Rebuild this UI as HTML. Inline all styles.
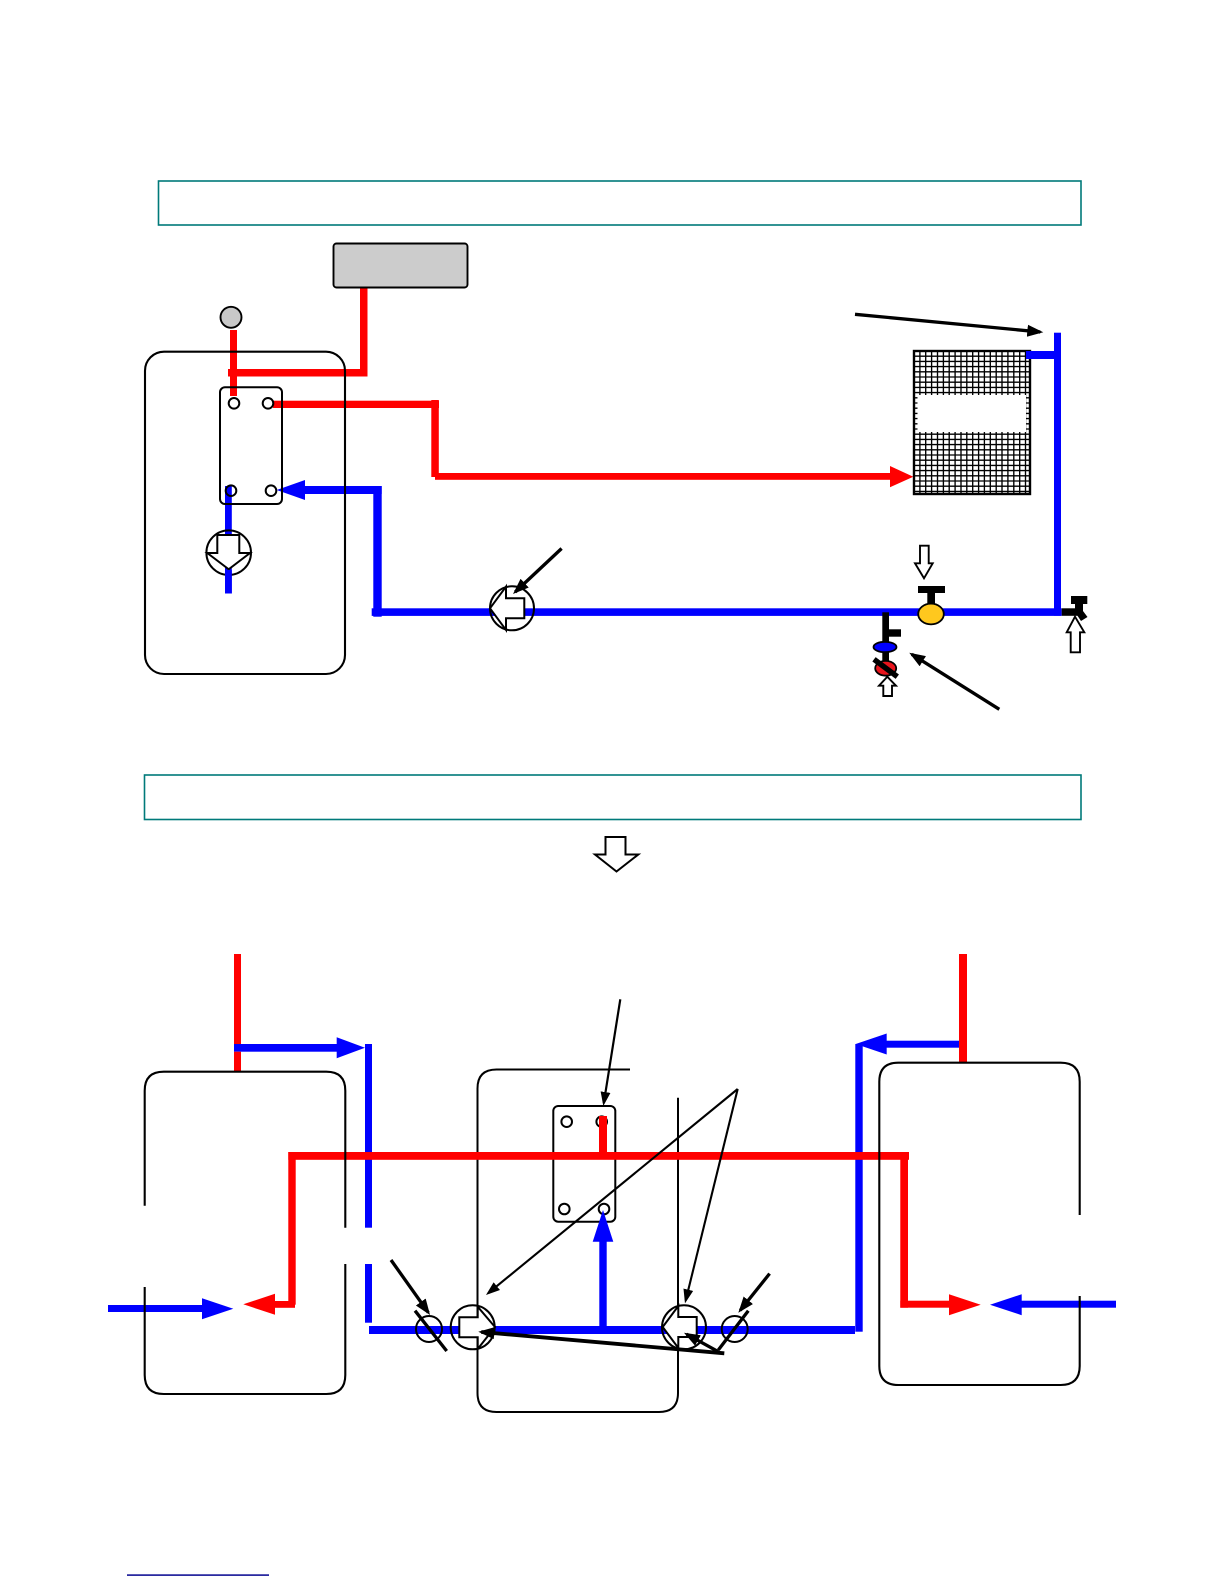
<!DOCTYPE html>
<html>
<head>
<meta charset="utf-8">
<style>
html,body{margin:0;padding:0;background:#fff}
svg{display:block}
</style>
</head>
<body>
<svg xmlns="http://www.w3.org/2000/svg" width="1224" height="1584" viewBox="0 0 1224 1584">
<defs>
<marker id="mL" markerUnits="userSpaceOnUse" markerWidth="20" markerHeight="16" refX="13" refY="7" orient="auto"><path d="M0 1L16 7L0 13Z" fill="#000"/></marker>
<marker id="mT" markerUnits="userSpaceOnUse" markerWidth="18" markerHeight="14" refX="11" refY="6" orient="auto"><path d="M0 1L14 6L0 11Z" fill="#000"/></marker>
</defs>
<rect width="1224" height="1584" fill="#fff"/>

<!-- header boxes -->
<rect x="158.5" y="181" width="922.5" height="44" fill="none" stroke="#007a7a" stroke-width="1.6"/>
<rect x="144.5" y="775" width="936.5" height="44.5" fill="none" stroke="#007a7a" stroke-width="1.6"/>

<!-- ===== TOP DIAGRAM ===== -->
<g fill="#f00">
<rect x="230" y="330" width="7" height="66"/>
<rect x="228" y="369" width="139.5" height="7.5"/>
<rect x="360" y="287" width="7.5" height="89"/>
<rect x="273" y="400.7" width="166" height="7.3"/>
<rect x="431.3" y="400" width="7.5" height="77"/>
<rect x="435" y="473" width="456" height="6.8"/>
<path d="M913.3 476.7L890 466V487.3Z"/>
</g>
<g fill="#00f">
<rect x="225" y="486" width="6.8" height="107.5"/>
<path d="M276.7 490L305 480V500Z"/>
<rect x="300" y="486" width="81.7" height="8"/>
<rect x="373.3" y="486" width="8.4" height="130.7"/>
<rect x="371.7" y="608.3" width="690" height="7.6"/>
<rect x="1054" y="332.7" width="7" height="283"/>
<rect x="1026" y="351" width="30" height="8"/>
</g>

<!-- tank -->
<rect x="145" y="351.7" width="200" height="322.3" rx="19" fill="none" stroke="#000" stroke-width="2.1"/>
<!-- HX -->
<rect x="220" y="387.3" width="62" height="116.7" rx="5" fill="none" stroke="#000" stroke-width="2"/>
<g fill="none" stroke="#000" stroke-width="2">
<circle cx="234" cy="403.3" r="5.3" fill="#fff"/>
<circle cx="268" cy="403.3" r="5.3" fill="#fff"/>
<circle cx="231" cy="490.7" r="5.3"/>
<circle cx="271" cy="490.7" r="5.3" fill="#fff"/>
</g>
<!-- grey box, gauge -->
<rect x="333.5" y="243.5" width="134" height="44" rx="3" fill="#ccc" stroke="#000" stroke-width="1.9"/>
<circle cx="231" cy="317.3" r="10.5" fill="#c8c8c8" stroke="#000" stroke-width="1.9"/>

<!-- pumps top -->
<g stroke="#000" stroke-width="2">
<circle cx="228.7" cy="552.7" r="22.3" fill="none"/>
<path d="M217.3 535H239.3V553H250L228.7 569.3L207.3 553H217.3Z" fill="#fff"/>
<circle cx="512" cy="608.3" r="22" fill="none"/>
<path d="M490 608.3L506 586.7V598.3H524.3V618.3H506V630Z" fill="#fff"/>
</g>
<rect x="225" y="570" width="6.8" height="23.5" fill="#00f"/>

<!-- grid -->
<rect x="914" y="351" width="116" height="143" fill="#fff"/>
<path d="M919.9 351V494M925.7 351V494M931.6 351V494M937.5 351V494M943.4 351V494M949.2 351V494M955.1 351V494M961 351V494M966.8 351V494M972.7 351V494M978.6 351V494M984.4 351V494M990.3 351V494M996.2 351V494M1002 351V494M1007.9 351V494M1013.8 351V494M1019.7 351V494M1025.5 351V494
M914 356.2H1030M914 361.4H1030M914 366.6H1030M914 371.8H1030M914 377H1030M914 382.2H1030M914 387.4H1030M914 392.6H1030M914 397.8H1030M914 403H1030M914 408.2H1030M914 413.4H1030M914 418.6H1030M914 423.8H1030M914 429H1030M914 434.2H1030M914 439.4H1030M914 444.6H1030M914 449.8H1030M914 455H1030M914 460.2H1030M914 465.4H1030M914 470.6H1030M914 475.8H1030M914 481H1030M914 486.2H1030M914 491.4H1030" stroke="#000" stroke-width="1.35" fill="none"/>
<rect x="914" y="351" width="116" height="143" fill="none" stroke="#000" stroke-width="2.4"/>
<rect x="917.5" y="395" width="108.5" height="37" fill="#fff"/>
<rect x="1026" y="351" width="30" height="8" fill="#00f"/>

<!-- valves -->
<rect x="918" y="586" width="27" height="7" fill="#000"/>
<rect x="927.3" y="593" width="7.7" height="13" fill="#000"/>
<ellipse cx="931" cy="614" rx="12.8" ry="10.4" fill="#ffc81e" stroke="#000" stroke-width="1.8"/>
<path d="M920 545.7H928.7V563.3H932.7L924 578.3L915 563.3H920Z" fill="#fff" stroke="#000" stroke-width="1.9"/>

<rect x="882.3" y="612.3" width="6.7" height="52" fill="#000"/>
<rect x="889" y="629.3" width="12" height="7.4" fill="#000"/>
<ellipse cx="885" cy="647" rx="11.5" ry="5.2" fill="#00f" stroke="#000" stroke-width="1.8"/>
<ellipse cx="885.7" cy="668.3" rx="10.5" ry="7.4" fill="#e8141c" stroke="#000" stroke-width="1.8"/>
<path d="M874 659.3L897.3 676.7" stroke="#000" stroke-width="5.5"/>
<path d="M887.3 676.7L896 685.7H892V696H883.3V685.7H879Z" fill="#fff" stroke="#000" stroke-width="1.9"/>

<rect x="1061.7" y="608.3" width="16.3" height="7.5" fill="#000"/>
<rect x="1071" y="596" width="16.3" height="8" fill="#000"/>
<path d="M1075 604H1083V611L1087.5 617L1081 621L1075 612Z" fill="#000"/>
<path d="M1075 616.7L1084.3 632.3H1080V652.3H1070.7V632.3H1066.7Z" fill="#fff" stroke="#000" stroke-width="1.9"/>

<!-- black arrows top -->
<g stroke="#000" stroke-width="3.3" fill="none">
<path d="M855 314.3L1040.3 332" marker-end="url(#mL)"/>
<path d="M561.6 548.5L515.2 592" marker-end="url(#mL)"/>
<path d="M999.3 709.3L911.8 654.3" marker-end="url(#mL)"/>
</g>

<!-- big hollow arrow -->
<path d="M605.5 837H625.5V854.5H638.3L616.5 871.5L595 854.5H605.5Z" fill="#fff" stroke="#000" stroke-width="2"/>

<!-- ===== BOTTOM DIAGRAM ===== -->
<!-- middle tank -->
<path d="M630 1069.5H496.5Q477.5 1069.5 477.5 1088.5V1393Q477.5 1412 496.5 1412H659Q678 1412 678 1393V1097.7" fill="none" stroke="#000" stroke-width="2"/>
<rect x="553.3" y="1106" width="62" height="115.7" rx="5" fill="none" stroke="#000" stroke-width="2"/>
<g fill="none" stroke="#000" stroke-width="2">
<circle cx="566.7" cy="1121.7" r="5.3"/>
<circle cx="601.7" cy="1121.7" r="5.3"/>
<circle cx="564.3" cy="1209" r="5.3"/>
<circle cx="604" cy="1209" r="5.3"/>
</g>

<g fill="#00f">
<rect x="234" y="1044" width="105" height="7.7"/>
<rect x="365" y="1044" width="7" height="183.7"/>
<rect x="365" y="1264" width="7" height="58.7"/>
<rect x="369" y="1326" width="486" height="8"/>
<rect x="855.3" y="1044" width="7.4" height="287.7"/>
<rect x="880" y="1040.7" width="80" height="7"/>
<rect x="599.3" y="1240" width="7.4" height="90"/>
<path d="M603 1210L613.3 1241.7H592.7Z"/>
<rect x="108" y="1305" width="96" height="7"/>
<rect x="1020" y="1300.7" width="96" height="7"/>
</g>

<g fill="#f00">
<rect x="234" y="954" width="7" height="90"/>
<rect x="234" y="1051.7" width="7" height="20"/>
<rect x="959" y="954" width="8" height="108.7"/>
<rect x="288.3" y="1152" width="620.7" height="7.8"/>
<rect x="288.3" y="1152" width="7.4" height="152.7"/>
<rect x="273" y="1301" width="22" height="6.8"/>
<path d="M243.3 1304.3L275 1293.8V1314.8Z"/>
<rect x="900.3" y="1152" width="7.7" height="155.7"/>
<rect x="900.3" y="1300.7" width="50" height="7"/>
<path d="M980.7 1304.7L949 1294.2V1315.2Z"/>
<rect x="599" y="1116" width="8" height="40"/>
</g>
<g fill="#00f">
<path d="M365 1047.7L336.7 1037.2V1058.2Z"/>
<path d="M855.7 1044L886.7 1033.5V1054.5Z"/>
<path d="M233.3 1308.7L202 1298.2V1319.2Z"/>
<path d="M990 1304.7L1021.7 1294.2V1315.2Z"/>
</g>

<!-- left tank with gaps -->
<path d="M144.7 1205.7V1090.7Q144.7 1071.7 163.7 1071.7H326.3Q345.3 1071.7 345.3 1090.7V1227.7M345.3 1264V1375Q345.3 1394 326.3 1394H163.7Q144.7 1394 144.7 1375V1287" fill="none" stroke="#000" stroke-width="2.1"/>
<!-- right tank with gaps -->
<path d="M1079.7 1215V1081.7Q1079.7 1062.7 1060.7 1062.7H898.3Q879.3 1062.7 879.3 1081.7V1366Q879.3 1385 898.3 1385H1060.7Q1079.7 1385 1079.7 1366V1296" fill="none" stroke="#000" stroke-width="2.1"/>

<!-- pumps bottom -->
<g stroke="#000" stroke-width="2">
<circle cx="472.7" cy="1327.3" r="22" fill="none"/>
<path d="M495 1327L477.7 1306.7V1317.3H459.3V1337.3H477.7V1349Z" fill="#fff"/>
<circle cx="684" cy="1327.3" r="22" fill="none"/>
<path d="M662.7 1327L678.3 1306V1317H696.7V1337H678.3V1348Z" fill="#fff"/>
<circle cx="429" cy="1329" r="13" fill="none"/>
<circle cx="734.7" cy="1329" r="13" fill="none"/>
</g>

<!-- black arrows bottom -->
<g stroke="#000" fill="none">
<path d="M415 1310.7L446.7 1351" stroke-width="3.3"/>
<path d="M748.3 1310.7L718.3 1350" stroke-width="3.3"/>
<path d="M391 1260L428.3 1312.6" stroke-width="3.3" marker-end="url(#mL)"/>
<path d="M769.6 1273.6L740.2 1310.4" stroke-width="3.3" marker-end="url(#mL)"/>
<path d="M724.3 1353.3L481.3 1332" stroke-width="3.8" marker-end="url(#mL)"/>
<path d="M718.3 1351.7L686.6 1334.2" stroke-width="3.3" marker-end="url(#mL)"/>
<path d="M620.3 999.3L603.8 1103" stroke-width="2.2" marker-end="url(#mT)"/>
<path d="M737.7 1089L488.3 1293.1" stroke-width="2.1" marker-end="url(#mT)"/>
<path d="M737.7 1089L685.7 1300.4" stroke-width="2.1" marker-end="url(#mT)"/>
</g>

<!-- footnote rule -->
<rect x="127" y="1574.3" width="142" height="1.6" fill="#141496"/>
</svg>
</body>
</html>
